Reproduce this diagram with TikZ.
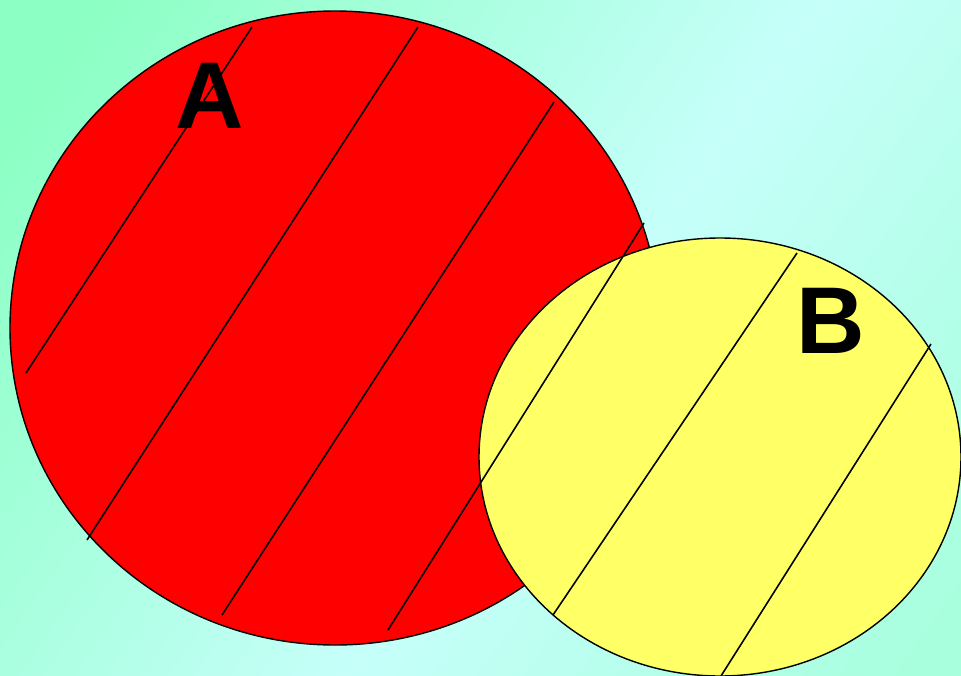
\documentclass[tikz,border=0pt]{standalone}
\usepackage{xcolor}
\usepackage{fontspec}
\setmainfont{Liberation Sans}
\definecolor{bggreen}{RGB}{140, 255, 196}
\definecolor{bgcyan}{RGB}{198, 255, 250}
\definecolor{bgmint}{RGB}{168, 255, 222}
\definecolor{setred}{RGB}{255, 0, 0}
\definecolor{setyellow}{RGB}{255, 255, 102}
\pgfdeclarehorizontalshading{bgshade}{100bp}{color(0bp)=(bggreen); color(20bp)=(bggreen); color(55bp)=(bgcyan); color(82bp)=(bgmint); color(100bp)=(bgmint)}

\begin{document}
\begin{tikzpicture}[
        x=0.02cm, y=-0.02cm,
        every node/.style={align=center}
    ]
        % Background
        \useasboundingbox (0,0) rectangle (961,676);
        \clip (0,0) rectangle (961,676);
        \shade[shading=bgshade, shading angle=-35] (0,0) rectangle (961,676);

        % Sets
        \draw[fill=setred, line width=0.8pt] (335,328) ellipse [x radius=325, y radius=317];
        \draw[fill=setyellow, line width=0.8pt] (720,457) ellipse [x radius=241, y radius=219];

        % Hatching
        \draw[line width=0.9pt] (26,373) -- (252,27);
        \draw[line width=0.9pt] (87,540) -- (418,27);
        \draw[line width=0.9pt] (222,615) -- (554,102);
        \draw[line width=0.9pt] (388,630) -- (644,223);
        \draw[line width=0.9pt] (553,615) -- (797,253);
        \draw[line width=0.9pt] (721,676) -- (931,344);

        % Labels
        \node[inner sep=0pt, font=\fontsize{54}{60}\selectfont\bfseries] (labelA) at (210,96) {A};
        \node[inner sep=0pt, font=\fontsize{54}{60}\selectfont\bfseries] (labelB) at (831,321) {B};
    \end{tikzpicture}
\end{document}
